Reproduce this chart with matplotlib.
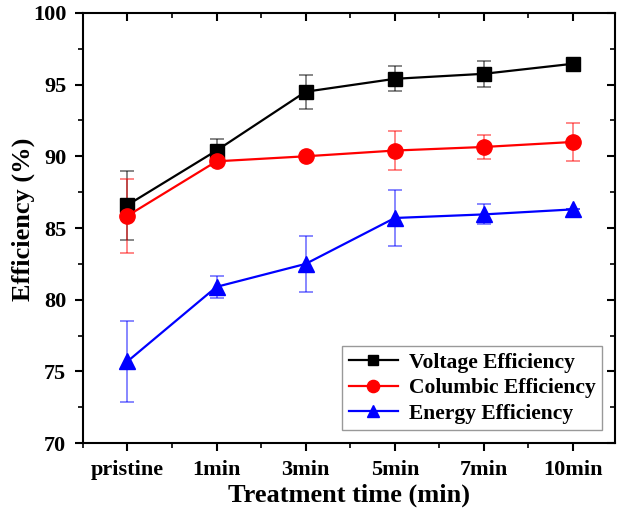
import numpy as np
import matplotlib
matplotlib.use("Agg")
import matplotlib.pyplot as plt
from matplotlib.ticker import MultipleLocator

categories = ["pristine", "1min", "3min", "5min", "7min", "10min"]

voltage = [86.6, 90.4, 94.5, 95.4, 95.75, 96.45]
voltage_err = [2.4, 0.8, 1.2, 0.88, 0.9, 0.0]

columbic = [85.85, 89.65, 90.0, 90.4, 90.65, 91.0]
columbic_err = [2.6, 0.3, 0.0, 1.35, 0.85, 1.3]

energy = [75.7, 80.9, 82.5, 85.7, 85.95, 86.3]
energy_err = [2.85, 0.75, 1.95, 1.95, 0.7, 0.0]

plt.rcParams['font.family'] = ['Liberation Serif', 'DejaVu Serif']
plt.rcParams['font.weight'] = 'bold'

fig = plt.figure(figsize=(6.18, 5.13), dpi=100)
ax = fig.add_axes([0.134, 0.136, 0.861, 0.839])

x = np.arange(len(categories))

series = [
    (voltage, voltage_err, "Voltage Efficiency", "black", "s", 9.5),
    (columbic, columbic_err, "Columbic Efficiency", "red", "o", 11),
    (energy, energy_err, "Energy Efficiency", "blue", "^", 11),
]

for vals, err, label, color, marker, ms in series:
    ax.errorbar(x, vals, yerr=err, fmt="none", ecolor=color, alpha=0.55,
                elinewidth=1.2, capsize=5, capthick=1.2, zorder=2)
    ax.plot(x, vals, color=color, marker=marker, markersize=ms, linewidth=1.6,
            label=label, zorder=3)

ax.set_xlim(-0.5, 5.47)
ax.set_ylim(70, 100)
ax.set_xticks(x)
ax.set_xticklabels(categories)
ax.xaxis.set_minor_locator(MultipleLocator(0.5))
ax.yaxis.set_major_locator(MultipleLocator(5))
ax.yaxis.set_minor_locator(MultipleLocator(2.5))

ax.tick_params(axis='both', which='major', labelsize=16, direction='out', length=6, width=1.5)
ax.tick_params(axis='x', which='major', pad=6)
ax.tick_params(axis='y', which='major', pad=6)
ax.tick_params(axis='both', which='minor', direction='out', length=3.5, width=1.2)
ax.tick_params(top=True, right=True, which='both')
for t in ax.xaxis.get_major_ticks() + ax.xaxis.get_minor_ticks():
    t.tick2line.set_marker(3)  # inward on top
for t in ax.yaxis.get_major_ticks() + ax.yaxis.get_minor_ticks():
    t.tick2line.set_marker(0)  # inward on right

for s in ax.spines.values():
    s.set_linewidth(1.5)

ax.set_xlabel("Treatment time (min)", fontsize=19, fontweight='bold', labelpad=3)
ax.set_ylabel("Efficiency (%)", fontsize=19, fontweight='bold')
ax.yaxis.set_label_coords(-0.09, 0.52)

leg = ax.legend(loc='lower right', fontsize=15.5, frameon=True, fancybox=False,
                edgecolor='gray', handlelength=2.3, borderaxespad=0.6,
                labelspacing=0.25, borderpad=0.3, handletextpad=0.5,
                markerscale=0.8)
leg.get_frame().set_linewidth(1.0)
for t in leg.get_texts():
    t.set_fontweight('bold')

fig.savefig("out.png", dpi=100)
